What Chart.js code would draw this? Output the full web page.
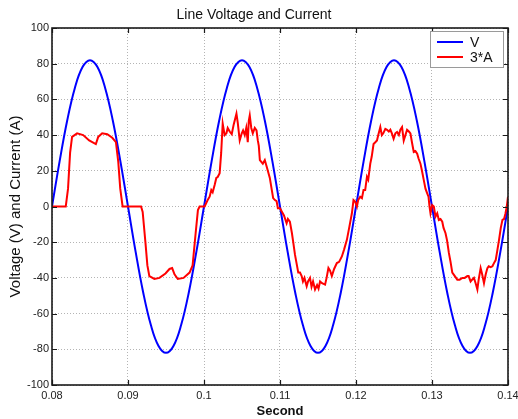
<!DOCTYPE html>
<html><head><meta charset="utf-8">
<script src="https://cdn.jsdelivr.net/npm/chart.js@4/dist/chart.umd.min.js"></script>
<style>html,body{margin:0;padding:0;background:#fff;}#wrap{width:518px;height:419px;}</style>
</head><body><div id="wrap"><canvas id="c" width="518" height="419"></canvas></div>
<script>
const chartTitle = 'Line Voltage and Current';
const xAxisTitle = 'Second';
const yAxisTitle = 'Voltage (V) and Current (A)';
const seriesNames = ['V', '3*A'];
const seriesColors = ['#0000ff', '#ff0000'];

const xTickValues = [0.08, 0.09, 0.10, 0.11, 0.12, 0.13, 0.14];
const xTickLabels = ['0.08', '0.09', '0.1', '0.11', '0.12', '0.13', '0.14'];
const yTickValues = [-100, -80, -60, -40, -20, 0, 20, 40, 60, 80, 100];
const yTickLabels = ['-100', '-80', '-60', '-40', '-20', '0', '20', '40', '60', '80', '100'];

const voltageTime = [
  0.080, 0.081, 0.082, 0.083, 0.084, 0.085, 0.086, 0.087, 0.088, 0.089,
  0.090, 0.091, 0.092, 0.093, 0.094, 0.095, 0.096, 0.097, 0.098, 0.099,
  0.100, 0.101, 0.102, 0.103, 0.104, 0.105, 0.106, 0.107, 0.108, 0.109,
  0.110, 0.111, 0.112, 0.113, 0.114, 0.115, 0.116, 0.117, 0.118, 0.119,
  0.120, 0.121, 0.122, 0.123, 0.124, 0.125, 0.126, 0.127, 0.128, 0.129,
  0.130, 0.131, 0.132, 0.133, 0.134, 0.135, 0.136, 0.137, 0.138, 0.139,
  0.140
];
const voltageValues = [
  0, 25.3, 48.2, 66.3, 78.0, 82.0, 78.0, 66.3, 48.2, 25.3,
  0, -25.3, -48.2, -66.3, -78.0, -82.0, -78.0, -66.3, -48.2, -25.3,
  0, 25.3, 48.2, 66.3, 78.0, 82.0, 78.0, 66.3, 48.2, 25.3,
  0, -25.3, -48.2, -66.3, -78.0, -82.0, -78.0, -66.3, -48.2, -25.3,
  0, 25.3, 48.2, 66.3, 78.0, 82.0, 78.0, 66.3, 48.2, 25.3,
  0, -25.3, -48.2, -66.3, -78.0, -82.0, -78.0, -66.3, -48.2, -25.3,
  0
];

const currentTime = [
  0.08000, 0.08181, 0.08211, 0.08238, 0.08264, 0.08330, 0.08410, 0.08489, 0.08577, 0.08608,
  0.08660, 0.08727, 0.08793, 0.08841, 0.08872, 0.08898, 0.08929, 0.09172, 0.09193, 0.09229,
  0.09255, 0.09281, 0.09347, 0.09414, 0.09493, 0.09546, 0.09581, 0.09612, 0.09655, 0.09731,
  0.09810, 0.09850, 0.09890, 0.09920, 0.09942, 0.10008, 0.10048, 0.10074, 0.10096, 0.10114,
  0.10140, 0.10162, 0.10180, 0.10206, 0.10226, 0.10246, 0.10272, 0.10295, 0.10312, 0.10338,
  0.10365, 0.10391, 0.10427, 0.10444, 0.10470, 0.10497, 0.10514, 0.10536, 0.10556, 0.10576,
  0.10589, 0.10602, 0.10622, 0.10642, 0.10668, 0.10691, 0.10708, 0.10721, 0.10735, 0.10774,
  0.10800, 0.10827, 0.10866, 0.10893, 0.10910, 0.10933, 0.10955, 0.10972, 0.10999, 0.11025,
  0.11052, 0.11087, 0.11104, 0.11130, 0.11157, 0.11174, 0.11197, 0.11223, 0.11240, 0.11263,
  0.11285, 0.11302, 0.11322, 0.11351, 0.11369, 0.11395, 0.11415, 0.11435, 0.11461, 0.11488,
  0.11507, 0.11527, 0.11553, 0.11593, 0.11613, 0.11637, 0.11659, 0.11682, 0.11712, 0.11748,
  0.11778, 0.11814, 0.11844, 0.11880, 0.11910, 0.11946, 0.11967, 0.11989, 0.12012, 0.12029,
  0.12055, 0.12078, 0.12099, 0.12121, 0.12144, 0.12161, 0.12188, 0.12207, 0.12231, 0.12254,
  0.12276, 0.12293, 0.12320, 0.12340, 0.12359, 0.12386, 0.12408, 0.12432, 0.12452, 0.12472,
  0.12495, 0.12518, 0.12540, 0.12564, 0.12584, 0.12606, 0.12628, 0.12650, 0.12672, 0.12696,
  0.12716, 0.12736, 0.12760, 0.12782, 0.12805, 0.12822, 0.12848, 0.12868, 0.12892, 0.12914,
  0.12937, 0.12954, 0.12967, 0.12980, 0.13003, 0.13024, 0.13046, 0.13069, 0.13090, 0.13112,
  0.13135, 0.13152, 0.13178, 0.13198, 0.13222, 0.13244, 0.13267, 0.13284, 0.13333, 0.13363,
  0.13399, 0.13430, 0.13465, 0.13482, 0.13508, 0.13528, 0.13552, 0.13574, 0.13597, 0.13614,
  0.13640, 0.13660, 0.13684, 0.13707, 0.13729, 0.13746, 0.13772, 0.13795, 0.13812, 0.13838,
  0.13858, 0.13882, 0.13905, 0.13927, 0.13948, 0.13966, 0.13984, 0.14000
];
const currentValues = [
  0, 0, 10, 30, 39, 41, 40, 37, 35, 39,
  41, 40.5, 38.5, 36, 25, 10, 0, 0, -3, -20,
  -33, -39, -40.6, -40, -37.5, -35, -34.5, -38, -40.6, -40,
  -37, -33, -15, -2, 0, 0, 3.6, 5.5, 9.2, 8,
  12, 16, 16.5, 18.7, 30, 46.5, 40, 41, 44, 42,
  40.5, 46, 52, 47, 37, 41, 42.6, 40, 44, 36,
  48, 51, 44, 41, 44, 42.6, 37, 34, 26, 24,
  26, 22, 16, 9, 4.7, 3.6, 3, -1, -1, -3,
  -5, -9.4, -7, -8.5, -15, -20, -27, -33, -37, -37,
  -39, -42, -40, -44.7, -42, -40, -45, -42, -46.5, -44,
  -46, -42, -43, -43.8, -40, -34.5, -36, -39, -35, -31.7,
  -31, -28, -24, -18.7, -12, -3.8, 3.6, 2.7, 0, 3.6,
  5.5, 4.7, 9.2, 9.2, 16.6, 15, 24, 28, 35, 36,
  37, 40, 44.5, 40, 41, 43.5, 43, 42, 43, 41,
  38, 41, 41.7, 40, 43, 44.5, 37, 40, 43, 42,
  41, 36, 30.5, 31, 29.6, 27, 24, 20, 14.8, 10,
  7.4, 5.5, 0, -3.8, 0.8, 0, -5.7, -3.8, -7.5, -7,
  -8.5, -12, -15, -19, -26, -31, -37, -38, -41, -41,
  -40, -40, -39, -39, -42, -41, -40, -43, -46.5, -41,
  -34.5, -38, -43, -38, -34.5, -33.5, -34, -33.5, -32, -30,
  -25, -18.7, -12, -7.5, -7, -4, 0, 5.5
];

const FONT = 'Liberation Sans, Arial, Helvetica, sans-serif';

const framePlugin = {
  id: 'frame',
  afterDatasetsDraw(chart) {
    const {ctx, chartArea: a, scales: {x, y}} = chart;
    ctx.save();
    ctx.strokeStyle = '#1a1a1a';
    ctx.lineWidth = 1.2;
    const tl = 5;
    ctx.beginPath();
    xTickValues.forEach(v => {
      const px = Math.round(x.getPixelForValue(v)) + 0.5;
      ctx.moveTo(px, a.bottom); ctx.lineTo(px, a.bottom - tl);
      ctx.moveTo(px, a.top); ctx.lineTo(px, a.top + tl);
    });
    yTickValues.forEach(v => {
      const py = Math.round(y.getPixelForValue(v)) + 0.5;
      ctx.moveTo(a.left, py); ctx.lineTo(a.left + tl, py);
      ctx.moveTo(a.right, py); ctx.lineTo(a.right - tl, py);
    });
    ctx.stroke();
    ctx.lineWidth = 1.6;
    ctx.strokeRect(a.left, a.top, a.right - a.left, a.bottom - a.top);

    // legend box
    const bw = 73, bh = 36;
    const bx = a.right - 5 - bw, by = a.top + 3;
    ctx.fillStyle = '#ffffff';
    ctx.fillRect(bx, by, bw, bh);
    ctx.strokeStyle = '#9a9a9a';
    ctx.lineWidth = 1;
    ctx.strokeRect(bx + 0.5, by + 0.5, bw, bh);
    ctx.font = '14px ' + FONT;
    ctx.textBaseline = 'middle';
    ctx.textAlign = 'left';
    chart.data.datasets.forEach((ds, i) => {
      const ly = by + 11 + i * 15;
      ctx.strokeStyle = ds.borderColor;
      ctx.lineWidth = 2;
      ctx.beginPath();
      ctx.moveTo(bx + 7, ly); ctx.lineTo(bx + 33, ly);
      ctx.stroke();
      ctx.fillStyle = '#111';
      ctx.fillText(ds.label, bx + 40, ly + 1);
    });
    ctx.restore();
  }
};

const gridOpts = { color: '#b4b4b4', lineWidth: 1, drawTicks: false };

new Chart(document.getElementById('c'), {
  type: 'line',
  data: {
    datasets: [
      {
        label: seriesNames[0],
        data: voltageTime.map((t, i) => ({x: t, y: voltageValues[i]})),
        borderColor: seriesColors[0],
        borderWidth: 2,
        pointRadius: 0,
        tension: 0.4,
        fill: false,
        order: 2
      },
      {
        label: seriesNames[1],
        data: currentTime.map((t, i) => ({x: t, y: currentValues[i]})),
        borderColor: seriesColors[1],
        borderWidth: 2,
        pointRadius: 0,
        tension: 0,
        fill: false,
        order: 1
      }
    ]
  },
  options: {
    responsive: false,
    animation: false,
    devicePixelRatio: 1,
    layout: { padding: { left: 0, right: 10, top: 0, bottom: 0 } },
    plugins: {
      legend: { display: false },
      tooltip: { enabled: false },
      title: {
        display: true,
        text: chartTitle,
        color: '#111',
        font: { family: FONT, size: 14, weight: 'normal' },
        padding: { top: 6.6, bottom: 4.6 }
      }
    },
    scales: {
      x: {
        type: 'linear',
        min: 0.08, max: 0.14,
        afterBuildTicks: s => { s.ticks = xTickValues.map(v => ({value: v})); },
        afterFit: s => { s.height = 34; s.paddingLeft = 0; s.paddingRight = 0; },
        ticks: {
          autoSkip: false, maxRotation: 0, padding: 4,
          color: '#222', font: { family: FONT, size: 11 },
          callback: (v, i) => xTickLabels[i]
        },
        grid: gridOpts,
        border: { display: false, dash: [1, 2] },
        title: {
          display: true, text: xAxisTitle, color: '#111',
          font: { family: FONT, size: 13, weight: 'bold' },
          padding: { top: 0, bottom: 0 }
        }
      },
      y: {
        type: 'linear',
        min: -100, max: 100,
        afterBuildTicks: s => { s.ticks = yTickValues.map(v => ({value: v})); },
        afterFit: s => { s.width = 52; s.paddingTop = 0; s.paddingBottom = 0; },
        ticks: {
          autoSkip: false, padding: 3,
          color: '#222', font: { family: FONT, size: 11 },
          callback: (v, i) => yTickLabels[i]
        },
        grid: gridOpts,
        border: { display: false, dash: [1, 2] },
        title: {
          display: true, text: yAxisTitle, color: '#111',
          font: { family: FONT, size: 15, weight: 'normal' },
          padding: { top: 6.5, bottom: 0 }
        }
      }
    }
  },
  plugins: [framePlugin]
});
</script>
</body></html>
